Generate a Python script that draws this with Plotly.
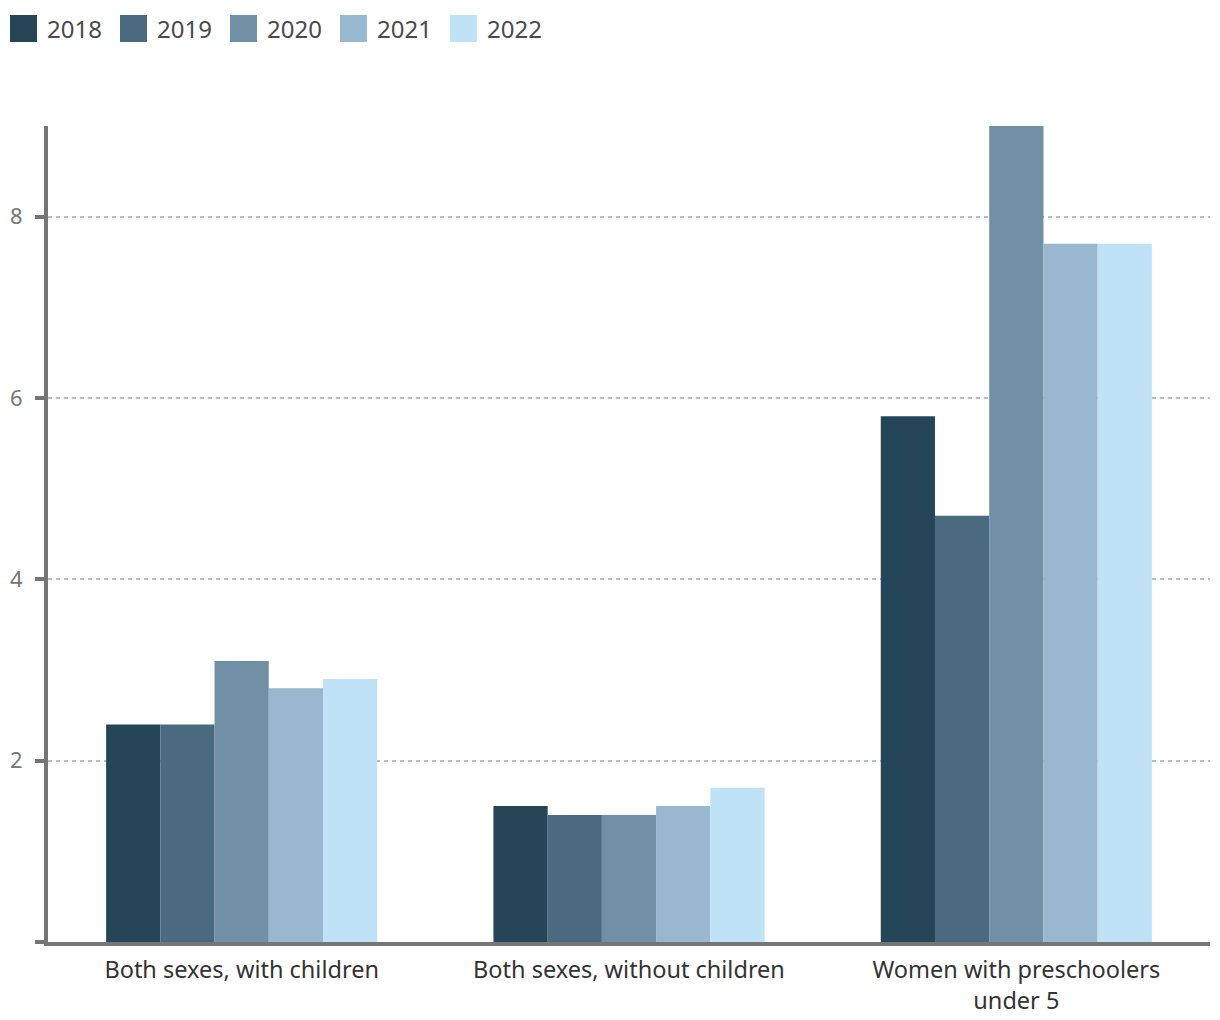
import plotly.graph_objects as go

categories = ["Both sexes, with children", "Both sexes, without children", "Women with preschoolers<br>under 5"]
years = ["2018", "2019", "2020", "2021", "2022"]
values = {
    "2018": [2.4, 1.5, 5.8],
    "2019": [2.4, 1.4, 4.7],
    "2020": [3.1, 1.4, 9.0],
    "2021": [2.8, 1.5, 7.7],
    "2022": [2.9, 1.7, 7.7],
}
colors = ["#244658", "#4a6a80", "#7090a6", "#97b8cf", "#c0e2f6"]
y_ticks = [0, 2, 4, 6, 8]
y_tick_text = ["", "2", "4", "6", "8"]

FONT = "Noto Sans"
OFF = 8  # page body margin
W, H = 1220 - OFF, 1020 - OFF
ML, MR, MT, MB = 40, 10, 118, 78

fig = go.Figure()
for yr, col in zip(years, colors):
    fig.add_trace(go.Bar(x=categories, y=values[yr], name=yr, marker=dict(color=col, line=dict(width=0)),
                         showlegend=False))

# custom legend (large square swatches) in paper coordinates
pw = W - ML - MR
ph = H - MT - MB
def px_x(p):
    return (p - OFF - ML) / pw
def px_y(p):
    return 1 - (p - OFF - MT) / ph

x0 = 10
step = 110
for i, (yr, col) in enumerate(zip(years, colors)):
    sx = x0 + i * step
    fig.add_shape(type="rect", xref="paper", yref="paper",
                  x0=px_x(sx), x1=px_x(sx + 27), y0=px_y(42), y1=px_y(15),
                  fillcolor=col, line=dict(width=0), layer="above")
    fig.add_annotation(xref="paper", yref="paper", x=px_x(sx + 35), y=px_y(29),
                       text=yr, showarrow=False, xanchor="left", yanchor="middle",
                       font=dict(family=FONT, size=24, color="#4a4a4a"))

fig.update_layout(
    width=W, height=H,
    margin=dict(l=ML, r=MR, t=MT, b=MB, pad=0),
    paper_bgcolor="white", plot_bgcolor="white",
    barmode="group", bargap=0.3, bargroupgap=0,
    font=dict(family=FONT),
    xaxis=dict(showgrid=False, showline=True, linecolor="#757575", linewidth=4,
               ticks="", tickfont=dict(family=FONT, size=23.5, color="#333333"),
               zeroline=False, ticklabelstandoff=4, automargin=False),
    yaxis=dict(range=[0, 9], tickvals=y_ticks, ticktext=y_tick_text,
               showline=True, linecolor="#757575", linewidth=4,
               ticks="outside", ticklen=9, tickwidth=4, tickcolor="#757575",
               showgrid=True, gridcolor="#b4c0c8", griddash="4px,4px", gridwidth=1.5,
               zeroline=False, tickfont=dict(family=FONT, size=22, color="#757575"),
               ticklabelstandoff=8, automargin=False),
)

fig.write_html("out.html")
